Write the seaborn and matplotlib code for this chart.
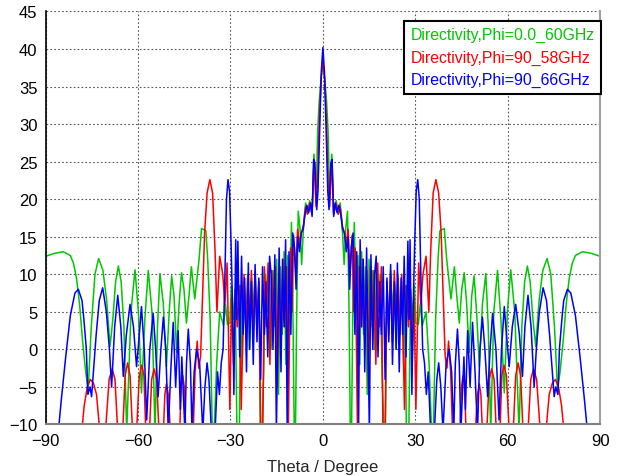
import numpy as np
import pandas as pd
import matplotlib
matplotlib.use("Agg")
import matplotlib.pyplot as plt
import seaborn as sns

# Half patterns (theta >= 0); the cut is symmetric so it is mirrored
green_theta = [0, 0.6, 1.2, 1.7, 2.1, 2.9, 3.5, 4.3, 5.0, 5.6, 6.2, 6.9, 7.4, 8.0, 8.5, 8.9, 9.3,
               9.8, 10.2, 10.8, 11.4, 12.0, 12.6, 13.2, 13.8, 14.4, 15.0, 15.6, 16.2, 16.8, 17.4,
               18.0, 18.6, 19.2, 19.8, 20.3, 20.8, 21.4, 22.0, 22.6, 23.2, 23.8, 24.4, 25.0, 25.6,
               26.2, 26.7, 27.1, 27.9, 28.5, 29.1, 29.7, 30.2, 31.0, 31.6, 32.3, 33.5, 34.5, 35.3,
               35.9, 36.6, 37.4, 38.0, 39.4, 40.2, 41.6, 42.7, 43.5, 44.3, 45.1, 45.9, 46.7, 47.5,
               48.3, 49.1, 49.9, 50.8, 51.8, 52.9, 53.7, 54.5, 55.5, 56.7, 57.8, 58.9, 59.9, 61.0,
               62.3, 63.7, 64.6, 65.5, 66.4, 67.3, 68.2, 69.1, 70.2, 71.4, 72.8, 74.0, 75.2, 76.2,
               77.0, 78.0, 79.0, 80.0, 81.0, 82.0, 84.3, 87.0, 90.0]
green_dir = [38, 36, 33, 29, 21.5, 26, 18, 19.8, 18, 19.5, 17, 11.3, 16, 18.4, 5, -11, -11,
             8, 16.9, 4, 12.5, -2, 13, 2, 11, -6, 12, 3, 10.5, 0, 11,
             5, 10, -3, -11, -11, 9, 2, 10.5, 5, 9.5, 0, 10, 3, 9,
             -2, 8.5, -11, -11, 8, 4, 8.5, 3.5, 3.3, 6, 3.2, 5, -2, -11,
             -11, 4, 12, 15.8, 16.1, 12, 6.7, 11, 7, 3.5, 8, 10.2, 6, -0.4,
             7, 9.8, 5, -2.3, 6, 10.1, 3, -11, 5, 10.5, 4, -5.8, 5, 10.6,
             5, -11, 3, 9, 11.1, 9, 4, 0.4, 6.5, 10.5, 12.1, 10, 3, -5.4,
             -3, 1, 6, 9.5, 11.5, 12.5, 13, 12.8, 12.4]

red_theta = [0, 0.6, 1.2, 1.8, 2.2, 2.9, 3.5, 4.3, 5.0, 5.6, 6.3, 7.0, 7.6, 8.2, 8.8, 9.5, 10.0,
             10.5, 11.2, 11.8, 12.4, 13.0, 13.6, 14.2, 14.8, 15.4, 16.0, 16.6, 17.2, 17.8, 18.4,
             19.0, 19.5, 20.2, 20.8, 21.4, 22.0, 22.6, 23.2, 23.8, 24.4, 25.0, 25.6, 26.5, 27.2,
             27.8, 28.4, 29.0, 29.6, 30.2, 31.1, 31.8, 32.5, 33.5, 34.4, 35.0, 35.8, 36.7, 37.6,
             38.4, 39.1, 39.7, 40.3, 40.8, 41.5, 42.1, 44.5, 45.0, 45.5, 46.0, 46.5, 49.5, 50.2,
             50.8, 51.3, 51.8, 53.2, 54.0, 54.8, 55.6, 56.3, 57.5, 58.1, 58.8, 59.6, 60.5, 61.8,
             62.6, 63.4, 64.2, 65.0, 66.6, 67.5, 68.4, 69.4, 70.6, 72.4, 73.5, 74.5, 75.5, 76.5,
             77.5, 78.3, 90.0]
red_dir = [38.5, 36, 30, 21, 19, 25, 18, 19.5, 18, 19, 16.5, 15.5, 14, 16, 10, 15.2, 5,
           13.5, -10, 11, 3, 12, 0, 10.5, -5, 11, 4, 10.5, -2, 11.5, 3,
           11, -11, -11, 9, 3, 10, 1, 10.5, 4, 9.5, 2, 10, -8, 8.5,
           3, 8, -2, 7, -8, 11.5, 6, 10, 12.4, 5, 13, 20.8, 22.6, 20.8,
           15.5, 6.7, -0.9, -2.5, 1.1, -3, -11, -11, -5, -3.5, -5, -11, -11, -6,
           -4.6, -6, -11, -11, -4, -2.6, -4, -11, -11, -3.5, -2.1, -3.5, -11, -11,
           -3.5, -1.8, -3.5, -11, -11, -4, -2.6, -4, -11, -11, -6, -4.5, -4, -5,
           -7.5, -11, -11]

blue_theta = [0, 0.5, 1.0, 1.6, 2.0, 2.6, 3.0, 3.5, 4.0, 4.6, 5.2, 5.8, 6.4, 7.0, 7.6, 8.2, 8.7,
              9.2, 9.8, 10.4, 11.0, 11.6, 12.1, 12.6, 13.1, 13.6, 14.2, 14.7, 15.1, 15.6, 16.2,
              16.8, 17.3, 17.9, 18.5, 19.0, 19.6, 20.2, 20.8, 21.4, 22.0, 22.6, 23.2, 23.8, 24.2,
              24.8, 25.4, 25.9, 26.4, 27.0, 27.6, 28.0, 28.3, 28.9, 29.3, 29.8, 30.3, 30.8, 31.3,
              31.8, 32.4, 33.0, 33.6, 34.2, 35.0, 36.2, 37.0, 37.6, 38.3, 39.0, 40.0, 41.0, 41.8,
              42.5, 43.0, 43.7, 44.3, 44.8, 45.8, 46.3, 47.0, 47.8, 48.6, 49.4, 50.2, 51.0, 51.8,
              52.6, 53.5, 54.3, 55.1, 56.2, 57.2, 58.0, 58.9, 59.8, 60.5, 61.5, 62.6, 63.8, 64.8,
              65.6, 66.6, 67.6, 68.6, 69.3, 70.3, 71.5, 72.6, 73.6, 74.5, 75.1, 75.6, 76.3, 76.8,
              77.6, 78.2, 79.4, 80.5, 82.0, 83.5, 85.0, 85.9, 90.0]
blue_dir = [40.2, 37, 30, 21, 18.6, 24.8, 25.3, 17.7, 19.5, 18.2, 19.2, 18, 16, 15.5, 13, 15, 8,
            13.5, 15.5, 2, 13, -10, 14.6, 3, 12, -3, 13.5, 0, -11, 12.6, 0,
            10, 12.4, -1, 9, 2, 11, -4, 9.5, 1, 11.3, -2, 9, 0, 11.5,
            -3, 9.5, 2, 12.4, -1, 14.4, 4, 14.6, -6, 5, 14, 21, 22.6, 20,
            10, 0, -1.8, -6, -3, -11, -11, -4, -1.8, -5, -11, -2, 0, -3,
            -11, -2, 2.7, -2, -11, -1, -8, 2.5, -5, 3.6, -3, -11, 0, 4.3,
            0, -6.3, 0, 4.8, 0, -9.4, 0, 5.7, 1, -2.3, 3, 6, 2, -3.6,
            3, 7.2, 3, -5, 0, 5, 8.2, 6.5, 2, -3, -6.3, -5, -6, 0,
            4, 6.5, 8, 7.5, 4.5, -1, -7, -11, -11]

labels = ["Directivity,Phi=0.0_60GHz", "Directivity,Phi=90_58GHz", "Directivity,Phi=90_66GHz"]
colors = ["#00c800", "#ff0000", "#0000ff"]


def mirror(theta, vals):
    t = np.asarray(theta, dtype=float)
    v = np.asarray(vals, dtype=float)
    return np.concatenate([-t[:0:-1], t]), np.concatenate([v[:0:-1], v])


frames = []
for lab, th, d in zip(labels, [green_theta, red_theta, blue_theta], [green_dir, red_dir, blue_dir]):
    t, v = mirror(th, d)
    frames.append(pd.DataFrame({"theta": t, "dir": v, "curve": lab}))
df = pd.concat(frames, ignore_index=True)

sns.set_style("white")
plt.rcParams["font.family"] = ["Liberation Sans", "DejaVu Sans"]

fig = plt.figure(figsize=(6.25, 4.77), dpi=100)
ax = fig.add_axes([0.0731, 0.108, 0.887, 0.866])

sns.lineplot(data=df, x="theta", y="dir", hue="curve", hue_order=labels,
             palette=colors, estimator=None, sort=False, linewidth=1.1, ax=ax, legend=False)

ax.set_xlim(-90, 90)
ax.set_ylim(-10, 45)
ax.set_xticks(range(-90, 91, 30))
ax.set_yticks(range(-10, 46, 5))
ax.grid(True, color="#555555", linestyle=(0, (1.5, 2)), linewidth=0.8)
ax.tick_params(length=0, labelsize=12, pad=6, colors="black")
ax.set_xlabel("Theta / Degree", fontsize=12, labelpad=8)
ax.set_ylabel("")

ax.spines["top"].set_visible(False)
ax.spines["left"].set_color("black")
ax.spines["left"].set_linewidth(1.2)
ax.spines["bottom"].set_color("#808080")
ax.spines["bottom"].set_linewidth(1.5)
ax.spines["right"].set_color("#a0a0a0")
ax.spines["right"].set_linewidth(1.5)

handles = [plt.Line2D([], [], color=c, linewidth=0) for c in colors]
leg = ax.legend(handles, labels, loc="upper right", bbox_to_anchor=(1.002, 0.977),
                borderaxespad=0, handlelength=0, handletextpad=0, labelspacing=0.46,
                borderpad=0.4, fancybox=False, framealpha=1, edgecolor="black",
                fontsize=11.4)
leg.get_frame().set_linewidth(1.5)
for txt, c in zip(leg.get_texts(), colors):
    txt.set_color(c)

fig.savefig("out.png", dpi=100)
